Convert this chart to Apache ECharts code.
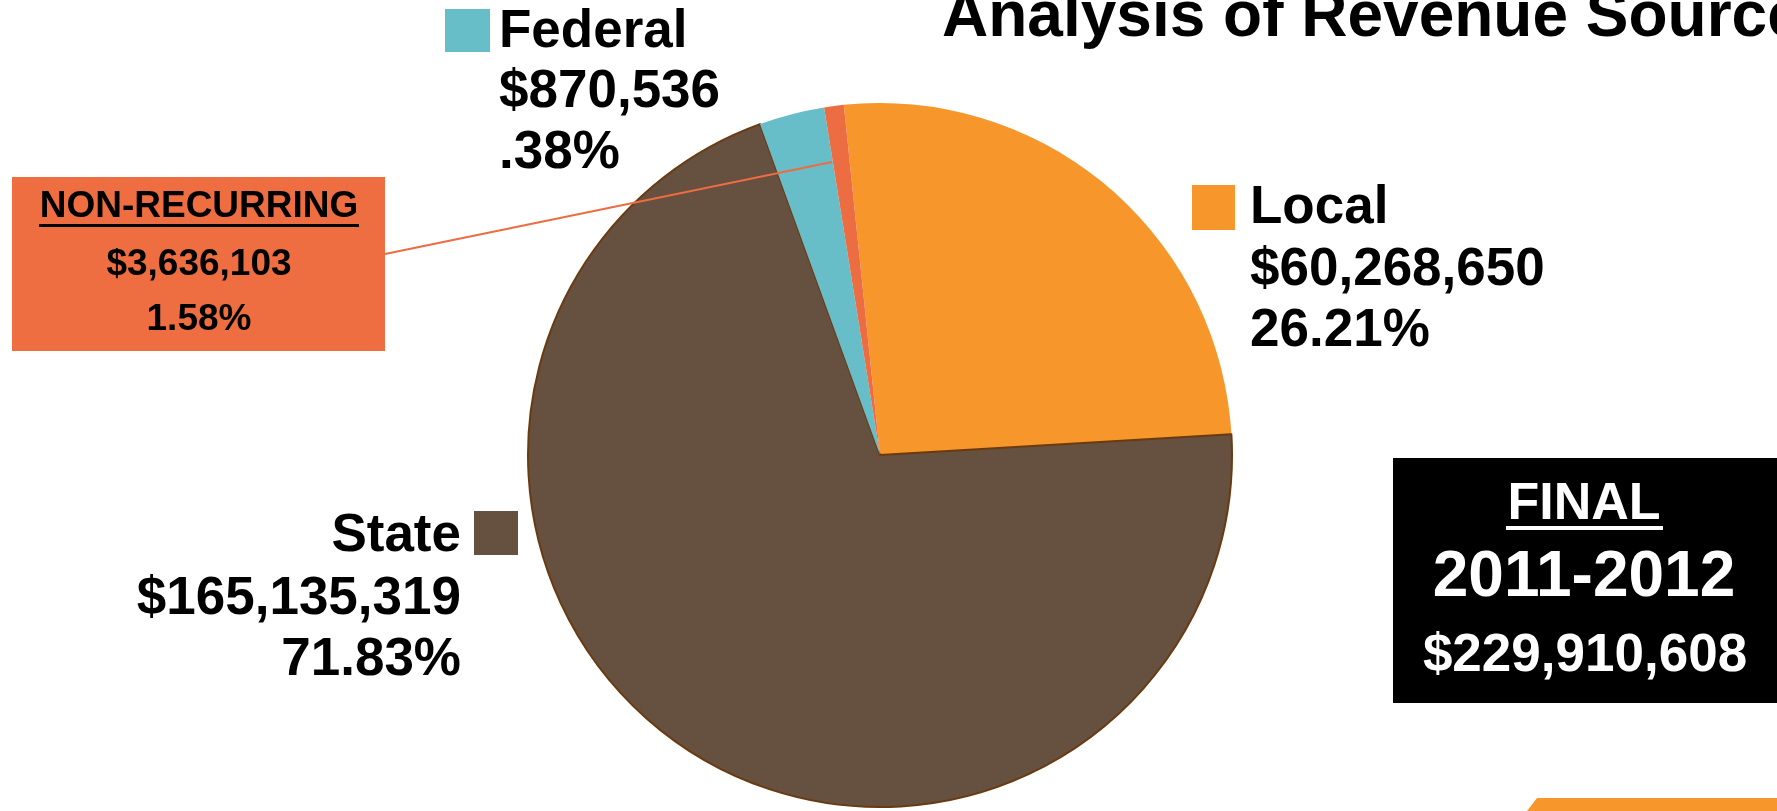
<!DOCTYPE html>
<html>
<head>
<meta charset="utf-8">
<script src="https://cdn.jsdelivr.net/npm/echarts@6/dist/echarts.min.js"></script>
<style>html,body{margin:0;padding:0;background:#fff;}#c{width:1777px;height:811px;}</style>
</head>
<body>
<div id="c"></div>
<script>
// Data
var categories = ['Local', 'State', 'Federal', 'Non-Recurring'];
// slice shares (%) as drawn in the picture
var sliceShare = [25.7, 70.4, 3.0, 0.9];
var amountText = ['$60,268,650', '$165,135,319', '$870,536', '$3,636,103'];
var percentText = ['26.21%', '71.83%', '.38%', '1.58%'];
var titleText = 'Analysis of Revenue Sources';
var totalLabel = ['FINAL', '2011-2012', '$229,910,608'];
var colors = ['#f7962a', '#665040', '#67bdc8', '#ec6d41'];

var FONT = '"Liberation Sans", Arial, sans-serif';
function txt(s, x, base, size, align, color, extra) {
  var st = {
    text: s, x: x, y: base - 0.30 * size,
    font: 'bold ' + size + 'px ' + FONT,
    fill: color || '#000', align: align || 'left', verticalAlign: 'middle'
  };
  if (extra) for (var k in extra) st[k] = extra[k];
  return { type: 'text', z: 10, style: st };
}
function rect(x, y, w, h, color, z) {
  return { type: 'rect', z: z || 5, shape: { x: x, y: y, width: w, height: h }, style: { fill: color } };
}

var graphics = [];
// title
graphics.push(txt(titleText, 942, 38, 64, 'left', '#000', {
  shadowColor: 'rgba(0,0,0,0.45)', shadowOffsetX: 3, shadowOffsetY: 3, shadowBlur: 2
}));
var LS = 53;
// Federal label
graphics.push(rect(445, 9, 45, 43, colors[2]));
graphics.push(txt(categories[2], 499, 48, LS, 'left'));
graphics.push(txt(amountText[2], 499, 108, LS, 'left'));
graphics.push(txt(percentText[2], 499, 169, LS, 'left'));
// Local label
graphics.push(rect(1192, 185, 43, 45, colors[0]));
graphics.push(txt(categories[0], 1250, 224, LS, 'left'));
graphics.push(txt(amountText[0], 1250, 286, LS, 'left'));
graphics.push(txt(percentText[0], 1250, 347, LS, 'left'));
// State label
graphics.push(rect(474, 511, 44, 44, colors[1]));
graphics.push(txt(categories[1], 461, 552, LS, 'right'));
graphics.push(txt(amountText[1], 461, 615, LS, 'right'));
graphics.push(txt(percentText[1], 461, 676, LS, 'right'));
// Non-recurring box
graphics.push(rect(12, 177, 373, 174, '#ee6e41', 4));
graphics.push(txt(categories[3].toUpperCase(), 199, 218, 37, 'center'));
graphics.push(rect(39, 224, 320, 3, '#000', 11));
graphics.push(txt(amountText[3], 199, 276, 37, 'center'));
graphics.push(txt(percentText[3], 199, 331, 37, 'center'));
graphics.push({ type: 'line', z: 20, shape: { x1: 385, y1: 254, x2: 832, y2: 162 }, style: { stroke: '#ec6d41', lineWidth: 2 } });
// Final total box
graphics.push(rect(1393, 458, 384, 245, '#000', 4));
graphics.push(txt(totalLabel[0], 1584, 520, 52, 'center', '#fff'));
graphics.push(rect(1506, 526, 157, 4, '#fff', 11));
graphics.push(txt(totalLabel[1], 1584, 598, 64, 'center', '#fff'));
graphics.push(txt(totalLabel[2], 1585, 672, 53, 'center', '#fff'));
// bottom right decorative shape
graphics.push({ type: 'polygon', z: 4, shape: { points: [[1537, 798], [1777, 798], [1777, 811], [1527, 811]] }, style: { fill: '#f7962a' } });

var chart = echarts.init(document.getElementById('c'));
chart.setOption({
  backgroundColor: '#fff',
  animation: false,
  graphic: graphics,
  series: [{
    type: 'pie',
    center: [880, 455],
    radius: 352,
    startAngle: 95.9,
    clockwise: true,
    label: { show: false },
    labelLine: { show: false },
    data: categories.map(function (c, i) {
      return {
        name: c, value: sliceShare[i],
        itemStyle: i === 1
          ? { color: colors[i], borderColor: '#6a3a10', borderWidth: 2 }
          : { color: colors[i], borderWidth: 0 }
      };
    })
  }]
});
</script>
</body>
</html>
